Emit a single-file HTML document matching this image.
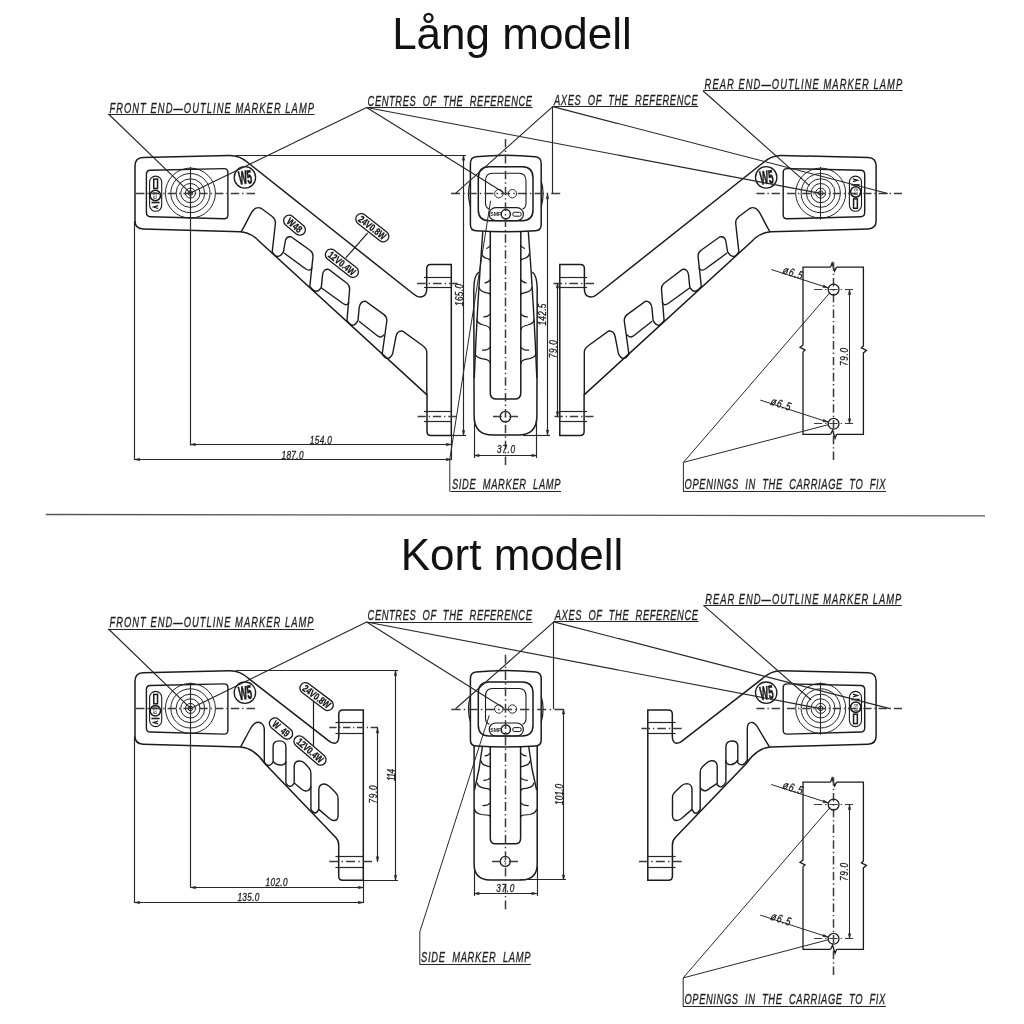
<!DOCTYPE html><html><head><meta charset="utf-8"><title>Lång modell / Kort modell</title><style>html,body{margin:0;padding:0;background:#fff;}svg{display:block;}</style></head><body><svg width="1024" height="1024" viewBox="0 0 1024 1024">
<style>
text{font-family:"Liberation Sans",sans-serif;}
.cl{stroke:#3a3a3a;fill:none;}
</style>
<rect width="1024" height="1024" fill="#fff"/>
<g opacity="0.996">
<text x="512" y="48.8" font-size="44" font-style="normal" font-weight="normal" text-anchor="middle" fill="#111" >Lång modell</text>
<text x="512" y="569.8" font-size="44" font-style="normal" font-weight="normal" text-anchor="middle" fill="#111" >Kort modell</text>
<line x1="45.8" y1="514.5" x2="985" y2="515.8" stroke="#555" stroke-width="1.3" />
<g>
<path d="M150.4,170.2 L223.9,168.6 Q227.9,168.5 227.9,172.5 L227.9,214.9 Q227.9,218.9 223.9,218.8 L150.4,216.7 Q146.4,216.6 146.4,212.6 L146.4,174.3 Q146.4,170.3 150.4,170.2 Z" stroke="#1a1a1a" stroke-width="1.4" fill="none" />
<circle cx="190.4" cy="193.1" r="25" stroke="#1a1a1a" stroke-width="0.95" fill="none"/>
<circle cx="190.4" cy="193.1" r="19.6" stroke="#1a1a1a" stroke-width="0.95" fill="none"/>
<circle cx="190.4" cy="193.1" r="14.3" stroke="#1a1a1a" stroke-width="0.95" fill="none"/>
<circle cx="190.4" cy="193.1" r="9.6" stroke="#1a1a1a" stroke-width="0.95" fill="none"/>
<circle cx="190.4" cy="193.1" r="5" stroke="#1a1a1a" stroke-width="0.95" fill="none"/>
<circle cx="190.4" cy="193.1" r="2.3" stroke="#1a1a1a" stroke-width="0.95" fill="none"/>
<rect x="149.6" y="176.1" width="12.1" height="35.2" rx="6" fill="none" stroke="#1a1a1a" stroke-width="1.1"/>
<circle cx="244.9" cy="177.4" r="10.7" stroke="#1a1a1a" stroke-width="1.3" fill="none"/>
<path d="M135,166 Q135,157.8 143,157.5 L229.7,155.5 C237,155.4 243,158.2 248.4,163 L413.5,294 C418,298 426.7,299 426.7,289 L426.7,268.6 Q426.7,264.6 430.7,264.6 L451.3,264.6 L451.3,435.5 L431,435.5 Q427,435.5 427,431.5 L427,394.9 L260,242 Q252,233 240.6,231.8 L143,228.9 Q135,228.6 135,221 Z" stroke="#1a1a1a" stroke-width="1.5" fill="none" />
<path d="M241,232 C246,224 250,214 253,210.5 Q256.5,206 261.5,208.5 L272.5,216.8 Q275.6,219.3 275.4,223.5 L272.2,251.8 Q277.6,261 283.5,251.8 L285.2,241.5 Q286.2,236 291.2,236.8 L310,250.2 Q313.2,252.6 313,256.5 L309.8,286.5 Q316.4,295.5 321.3,287.4 L322.6,274.5 Q323.6,268.5 328.8,269.4 L347,283.2 Q349.8,285.5 349.6,289.5 L347,320.4 Q353,330 358,320.4 L359.2,307.5 Q360.2,301 365.5,301.2 L384,314.6 Q387,317 386.8,321 L382.2,354 Q388.2,363 392.7,353.6 L395.9,337 Q397,330.5 402.4,331 L422.5,345.5 Q426.7,348.5 426.8,352 L426.8,395" stroke="#1a1a1a" stroke-width="1.4" fill="none" />
<path d="M284,253 L305.5,268.8 Q310,272 312.3,267.5" stroke="#1a1a1a" stroke-width="1.4" fill="none" />
<path d="M321.5,288 L343,303.5 Q347.5,306.5 349,302" stroke="#1a1a1a" stroke-width="1.4" fill="none" />
<path d="M359,321.3 L378,336.2 Q382,338.5 383.9,334.5" stroke="#1a1a1a" stroke-width="1.4" fill="none" />
<line x1="424" y1="277.5" x2="451.3" y2="277.5" stroke="#262626" stroke-width="1.2" />
<line x1="424" y1="287.5" x2="451.3" y2="287.5" stroke="#262626" stroke-width="1.2" />
<line x1="424" y1="411.5" x2="451.3" y2="411.5" stroke="#262626" stroke-width="1.2" />
<line x1="424" y1="421.5" x2="451.3" y2="421.5" stroke="#262626" stroke-width="1.2" />
<line x1="417.1" y1="283.5" x2="457.6" y2="283.5" class="cl" stroke-width="1.5" stroke-dasharray="8.58 2.99 1.4 2.99"/>
<line x1="417.6" y1="416.5" x2="456.6" y2="416.5" class="cl" stroke-width="1.5" stroke-dasharray="8.26 2.88 1.34 2.88"/>
</g>
<g transform="matrix(-1 0 0 1 1011.1 0)">
<path d="M150.4,170.2 L223.9,168.6 Q227.9,168.5 227.9,172.5 L227.9,214.9 Q227.9,218.9 223.9,218.8 L150.4,216.7 Q146.4,216.6 146.4,212.6 L146.4,174.3 Q146.4,170.3 150.4,170.2 Z" stroke="#1a1a1a" stroke-width="1.4" fill="none" />
<circle cx="190.4" cy="193.1" r="25" stroke="#1a1a1a" stroke-width="0.95" fill="none"/>
<circle cx="190.4" cy="193.1" r="19.6" stroke="#1a1a1a" stroke-width="0.95" fill="none"/>
<circle cx="190.4" cy="193.1" r="14.3" stroke="#1a1a1a" stroke-width="0.95" fill="none"/>
<circle cx="190.4" cy="193.1" r="9.6" stroke="#1a1a1a" stroke-width="0.95" fill="none"/>
<circle cx="190.4" cy="193.1" r="5" stroke="#1a1a1a" stroke-width="0.95" fill="none"/>
<circle cx="190.4" cy="193.1" r="2.3" stroke="#1a1a1a" stroke-width="0.95" fill="none"/>
<rect x="149.6" y="176.1" width="12.1" height="35.2" rx="6" fill="none" stroke="#1a1a1a" stroke-width="1.1"/>
<circle cx="244.9" cy="177.4" r="10.7" stroke="#1a1a1a" stroke-width="1.3" fill="none"/>
<path d="M135,166 Q135,157.8 143,157.5 L229.7,155.5 C237,155.4 243,158.2 248.4,163 L413.5,294 C418,298 426.7,299 426.7,289 L426.7,268.6 Q426.7,264.6 430.7,264.6 L451.3,264.6 L451.3,435.5 L431,435.5 Q427,435.5 427,431.5 L427,394.9 L260,242 Q252,233 240.6,231.8 L143,228.9 Q135,228.6 135,221 Z" stroke="#1a1a1a" stroke-width="1.5" fill="none" />
<path d="M241,232 C246,224 250,214 253,210.5 Q256.5,206 261.5,208.5 L272.5,216.8 Q275.6,219.3 275.4,223.5 L272.2,251.8 Q277.6,261 283.5,251.8 L285.2,241.5 Q286.2,236 291.2,236.8 L310,250.2 Q313.2,252.6 313,256.5 L309.8,286.5 Q316.4,295.5 321.3,287.4 L322.6,274.5 Q323.6,268.5 328.8,269.4 L347,283.2 Q349.8,285.5 349.6,289.5 L347,320.4 Q353,330 358,320.4 L359.2,307.5 Q360.2,301 365.5,301.2 L384,314.6 Q387,317 386.8,321 L382.2,354 Q388.2,363 392.7,353.6 L395.9,337 Q397,330.5 402.4,331 L422.5,345.5 Q426.7,348.5 426.8,352 L426.8,395" stroke="#1a1a1a" stroke-width="1.4" fill="none" />
<path d="M284,253 L305.5,268.8 Q310,272 312.3,267.5" stroke="#1a1a1a" stroke-width="1.4" fill="none" />
<path d="M321.5,288 L343,303.5 Q347.5,306.5 349,302" stroke="#1a1a1a" stroke-width="1.4" fill="none" />
<path d="M359,321.3 L378,336.2 Q382,338.5 383.9,334.5" stroke="#1a1a1a" stroke-width="1.4" fill="none" />
<line x1="424" y1="277.5" x2="451.3" y2="277.5" stroke="#262626" stroke-width="1.2" />
<line x1="424" y1="287.5" x2="451.3" y2="287.5" stroke="#262626" stroke-width="1.2" />
<line x1="424" y1="411.5" x2="451.3" y2="411.5" stroke="#262626" stroke-width="1.2" />
<line x1="424" y1="421.5" x2="451.3" y2="421.5" stroke="#262626" stroke-width="1.2" />
<line x1="417.1" y1="283.5" x2="457.6" y2="283.5" class="cl" stroke-width="1.5" stroke-dasharray="8.58 2.99 1.4 2.99"/>
<line x1="417.6" y1="416.5" x2="456.6" y2="416.5" class="cl" stroke-width="1.5" stroke-dasharray="8.26 2.88 1.34 2.88"/>
</g>
<g>
<g transform="translate(0,515.3)">
<path d="M150.4,170.2 L223.9,168.6 Q227.9,168.5 227.9,172.5 L227.9,214.9 Q227.9,218.9 223.9,218.8 L150.4,216.7 Q146.4,216.6 146.4,212.6 L146.4,174.3 Q146.4,170.3 150.4,170.2 Z" stroke="#1a1a1a" stroke-width="1.4" fill="none" />
<circle cx="190.4" cy="193.1" r="25" stroke="#1a1a1a" stroke-width="0.95" fill="none"/>
<circle cx="190.4" cy="193.1" r="19.6" stroke="#1a1a1a" stroke-width="0.95" fill="none"/>
<circle cx="190.4" cy="193.1" r="14.3" stroke="#1a1a1a" stroke-width="0.95" fill="none"/>
<circle cx="190.4" cy="193.1" r="9.6" stroke="#1a1a1a" stroke-width="0.95" fill="none"/>
<circle cx="190.4" cy="193.1" r="5" stroke="#1a1a1a" stroke-width="0.95" fill="none"/>
<circle cx="190.4" cy="193.1" r="2.3" stroke="#1a1a1a" stroke-width="0.95" fill="none"/>
<rect x="149.6" y="176.1" width="12.1" height="35.2" rx="6" fill="none" stroke="#1a1a1a" stroke-width="1.1"/>
<circle cx="244.9" cy="177.4" r="10.7" stroke="#1a1a1a" stroke-width="1.3" fill="none"/>
</g>
<path d="M135,681.3 Q135,673.1 143,672.8 L229.7,670.8 C237,670.7 243,673.5 248.4,678.3 L328.5,740.6 C333,744.5 338.8,745 338.8,736 L338.8,714.1 Q338.8,710.1 342.8,710.1 L363.3,710.1 L363.3,880.3 L342.7,880.3 Q338.7,880.3 338.7,876.3 L338.7,845 Q338.7,840.5 335.8,837.5 L265,763.7 Q254,748 240.6,747.1 L143,744.2 Q135,743.9 135,736.3 Z" stroke="#1a1a1a" stroke-width="1.5" fill="none" />
<line x1="335.5" y1="722.5" x2="363.3" y2="722.5" stroke="#262626" stroke-width="1.2" />
<line x1="335.5" y1="733.5" x2="363.3" y2="733.5" stroke="#262626" stroke-width="1.2" />
<line x1="335.5" y1="856.5" x2="363.3" y2="856.5" stroke="#262626" stroke-width="1.2" />
<line x1="335.5" y1="867.5" x2="363.3" y2="867.5" stroke="#262626" stroke-width="1.2" />
</g>
<g transform="matrix(-1 0 0 1 1011.1 0)">
<g transform="translate(0,515.3)">
<path d="M150.4,170.2 L223.9,168.6 Q227.9,168.5 227.9,172.5 L227.9,214.9 Q227.9,218.9 223.9,218.8 L150.4,216.7 Q146.4,216.6 146.4,212.6 L146.4,174.3 Q146.4,170.3 150.4,170.2 Z" stroke="#1a1a1a" stroke-width="1.4" fill="none" />
<circle cx="190.4" cy="193.1" r="25" stroke="#1a1a1a" stroke-width="0.95" fill="none"/>
<circle cx="190.4" cy="193.1" r="19.6" stroke="#1a1a1a" stroke-width="0.95" fill="none"/>
<circle cx="190.4" cy="193.1" r="14.3" stroke="#1a1a1a" stroke-width="0.95" fill="none"/>
<circle cx="190.4" cy="193.1" r="9.6" stroke="#1a1a1a" stroke-width="0.95" fill="none"/>
<circle cx="190.4" cy="193.1" r="5" stroke="#1a1a1a" stroke-width="0.95" fill="none"/>
<circle cx="190.4" cy="193.1" r="2.3" stroke="#1a1a1a" stroke-width="0.95" fill="none"/>
<rect x="149.6" y="176.1" width="12.1" height="35.2" rx="6" fill="none" stroke="#1a1a1a" stroke-width="1.1"/>
<circle cx="244.9" cy="177.4" r="10.7" stroke="#1a1a1a" stroke-width="1.3" fill="none"/>
</g>
<path d="M135,681.3 Q135,673.1 143,672.8 L229.7,670.8 C237,670.7 243,673.5 248.4,678.3 L328.5,740.6 C333,744.5 338.8,745 338.8,736 L338.8,714.1 Q338.8,710.1 342.8,710.1 L363.3,710.1 L363.3,880.3 L342.7,880.3 Q338.7,880.3 338.7,876.3 L338.7,845 Q338.7,840.5 335.8,837.5 L265,763.7 Q254,748 240.6,747.1 L143,744.2 Q135,743.9 135,736.3 Z" stroke="#1a1a1a" stroke-width="1.5" fill="none" />
<line x1="335.5" y1="722.5" x2="363.3" y2="722.5" stroke="#262626" stroke-width="1.2" />
<line x1="335.5" y1="733.5" x2="363.3" y2="733.5" stroke="#262626" stroke-width="1.2" />
<line x1="335.5" y1="856.5" x2="363.3" y2="856.5" stroke="#262626" stroke-width="1.2" />
<line x1="335.5" y1="867.5" x2="363.3" y2="867.5" stroke="#262626" stroke-width="1.2" />
</g>
<line x1="329.3" y1="727.5" x2="378" y2="727.5" class="cl" stroke-width="1.5" stroke-dasharray="7.4 2.58 1.2 2.58"/>
<line x1="329.3" y1="861.5" x2="372" y2="861.5" class="cl" stroke-width="1.5" stroke-dasharray="9.04 3.16 1.47 3.16"/>
<line x1="641.4" y1="728.5" x2="681.7" y2="728.5" class="cl" stroke-width="1.5" stroke-dasharray="8.54 2.98 1.39 2.98"/>
<line x1="639" y1="861.5" x2="681.7" y2="861.5" class="cl" stroke-width="1.5" stroke-dasharray="9.04 3.16 1.47 3.16"/>
<path d="M240.5,747 C245,739 249,731 251.5,727 Q256,720.5 261,723 Q264.3,725 264.3,730 L264.3,762 Q268.7,769 273.1,762 L273.1,746.5 Q273.1,740.9 279.4,740.9 Q285.9,740.9 285.9,747 L285.9,783 Q290,790 294.2,783 L294.2,766 Q294.5,760.8 300,761 Q302.5,761 305,763.5 L309,768 Q310.9,770 310.9,773.5 L310.9,809.4 Q315.3,816.5 318.8,809.4 L318.8,789.5 Q319.3,783.6 324.5,784 Q327,784.5 329.5,786.5 L335.5,792.5 Q338.1,795 338.1,798.5 L338.1,816 Q337.8,821 333.5,820.5 Q331.5,820.2 329.5,818.5 L318.8,809.4" stroke="#1a1a1a" stroke-width="1.4" fill="none" />
<path d="M273.1,761.5 Q277,766 282.7,764.8 Q285.9,764 285.9,761" stroke="#1a1a1a" stroke-width="1.4" fill="none" />
<path d="M294.2,783 L302,789.5 Q305.5,792 308,790.5 Q310.9,789 310.9,786" stroke="#1a1a1a" stroke-width="1.4" fill="none" />
<path d="M769.4,746.8 L756.8,726 Q752.5,720.2 748.5,723.8 Q747.3,725.3 747.3,728.5 L747.3,760.2 Q742.5,768 737.8,762.9 L737.8,746 Q737.8,741 732,741 Q725.9,741 725.9,747 L725.9,782 Q721.5,790 717.2,784.8 L717.2,766 Q717,760.5 711.5,760.8 Q709,761 706.5,763 L702.5,766.8 Q700.2,769 700.2,772.5 L700.2,809.4 Q695.6,817 692,809.4 L692,789.5 Q691.8,783.6 686.5,783.6 Q684,783.8 681.5,785.8 L675.5,791.5 Q672.5,794 672.5,797.5 L672.5,816 Q672.8,821 677.5,820.4 Q679.5,820 681.5,818.5 L692,809.4" stroke="#1a1a1a" stroke-width="1.4" fill="none" />
<path d="M737.8,760 Q734,765.5 729,764.5 Q725.9,763.8 725.9,760.5" stroke="#1a1a1a" stroke-width="1.4" fill="none" />
<path d="M700.2,787.5 Q702.5,791.8 706.5,790.5 L716.8,783.6" stroke="#1a1a1a" stroke-width="1.4" fill="none" />
<text x="245.2" y="184" font-size="19" font-style="normal" font-weight="bold" text-anchor="middle" fill="#161616" transform="rotate(-8 244.9 177.4)" stroke="#161616" stroke-width="0.6" textLength="13.5" lengthAdjust="spacingAndGlyphs">W5</text>
<text x="766.5" y="184" font-size="19" font-style="normal" font-weight="bold" text-anchor="middle" fill="#161616" transform="rotate(-8 766.2 177.4)" stroke="#161616" stroke-width="0.6" textLength="13.5" lengthAdjust="spacingAndGlyphs">W5</text>
<g transform="rotate(0 155.65 193.7)">
<rect x="153.75" y="179.1" width="3.8" height="9.4" fill="none" stroke="#1a1a1a" stroke-width="1.5"/>
<circle cx="155.35" cy="195.5" r="5.2" stroke="#1a1a1a" stroke-width="1.6" fill="none"/>
<text x="155.35" y="195.5" font-size="6" font-style="normal" font-weight="normal" text-anchor="middle" fill="#222" transform="rotate(90 155.35 195.5)" dy="2">E9</text>
<line x1="151.45" y1="202.5" x2="159.65" y2="202.5" stroke="#1a1a1a" stroke-width="1.6" />
<path d="M158.15,205.7 L153.65,207.1 L158.15,208.5" stroke="#1a1a1a" stroke-width="1.3" fill="none" />
</g>
<g transform="rotate(180 855.45 193.7)">
<rect x="853.55" y="179.1" width="3.8" height="9.4" fill="none" stroke="#1a1a1a" stroke-width="1.5"/>
<circle cx="855.15" cy="195.5" r="5.2" stroke="#1a1a1a" stroke-width="1.6" fill="none"/>
<text x="855.15" y="195.5" font-size="6" font-style="normal" font-weight="normal" text-anchor="middle" fill="#222" transform="rotate(90 855.15 195.5)" dy="2">E9</text>
<line x1="851.25" y1="202.5" x2="859.45" y2="202.5" stroke="#1a1a1a" stroke-width="1.6" />
<path d="M857.95,205.7 L853.45,207.1 L857.95,208.5" stroke="#1a1a1a" stroke-width="1.3" fill="none" />
</g>
<text x="245.2" y="699.3" font-size="19" font-style="normal" font-weight="bold" text-anchor="middle" fill="#161616" transform="rotate(-8 244.9 692.7)" stroke="#161616" stroke-width="0.6" textLength="13.5" lengthAdjust="spacingAndGlyphs">W5</text>
<text x="766.5" y="699.3" font-size="19" font-style="normal" font-weight="bold" text-anchor="middle" fill="#161616" transform="rotate(-8 766.2 692.7)" stroke="#161616" stroke-width="0.6" textLength="13.5" lengthAdjust="spacingAndGlyphs">W5</text>
<g transform="rotate(0 155.65 709)">
<rect x="153.75" y="694.4" width="3.8" height="9.4" fill="none" stroke="#1a1a1a" stroke-width="1.5"/>
<circle cx="155.35" cy="710.8" r="5.2" stroke="#1a1a1a" stroke-width="1.6" fill="none"/>
<text x="155.35" y="710.8" font-size="6" font-style="normal" font-weight="normal" text-anchor="middle" fill="#222" transform="rotate(90 155.35 710.8)" dy="2">E9</text>
<line x1="151.45" y1="718.5" x2="159.65" y2="718.5" stroke="#1a1a1a" stroke-width="1.6" />
<path d="M158.15,721 L153.65,722.4 L158.15,723.8" stroke="#1a1a1a" stroke-width="1.3" fill="none" />
</g>
<g transform="rotate(180 855.45 709)">
<rect x="853.55" y="694.4" width="3.8" height="9.4" fill="none" stroke="#1a1a1a" stroke-width="1.5"/>
<circle cx="855.15" cy="710.8" r="5.2" stroke="#1a1a1a" stroke-width="1.6" fill="none"/>
<text x="855.15" y="710.8" font-size="6" font-style="normal" font-weight="normal" text-anchor="middle" fill="#222" transform="rotate(90 855.15 710.8)" dy="2">E9</text>
<line x1="851.25" y1="718.5" x2="859.45" y2="718.5" stroke="#1a1a1a" stroke-width="1.6" />
<path d="M857.95,721 L853.45,722.4 L857.95,723.8" stroke="#1a1a1a" stroke-width="1.3" fill="none" />
</g>
<line x1="367.7" y1="232.8" x2="345.8" y2="257.8" stroke="#1a1a1a" stroke-width="1.2" />
<g transform="rotate(40 294.5 225.2)">
<rect x="282" y="219.7" width="25" height="11" rx="5.5" fill="#fff" stroke="#1a1a1a" stroke-width="1.3"/>
<text x="294.5" y="228.7" font-size="10" text-anchor="middle" font-weight="bold" fill="#111" stroke="#111" stroke-width="0.25" textLength="17" lengthAdjust="spacingAndGlyphs">W48</text>
</g>
<g transform="rotate(38 372.3 227.7)">
<rect x="352.8" y="222.2" width="39" height="11" rx="5.5" fill="#fff" stroke="#1a1a1a" stroke-width="1.3"/>
<text x="372.3" y="231.2" font-size="10" text-anchor="middle" font-weight="bold" fill="#111" stroke="#111" stroke-width="0.25" textLength="32" lengthAdjust="spacingAndGlyphs">24V0.8W</text>
</g>
<g transform="rotate(38 341.9 263.3)">
<rect x="322.4" y="257.8" width="39" height="11" rx="5.5" fill="#fff" stroke="#1a1a1a" stroke-width="1.3"/>
<text x="341.9" y="266.8" font-size="10" text-anchor="middle" font-weight="bold" fill="#111" stroke="#111" stroke-width="0.25" textLength="32" lengthAdjust="spacingAndGlyphs">12V0.4W</text>
</g>
<line x1="313.5" y1="700.7" x2="313.5" y2="745.4" stroke="#1a1a1a" stroke-width="1.2" />
<g transform="rotate(37 316.6 696.6)">
<rect x="297.1" y="691.1" width="39" height="11" rx="5.5" fill="#fff" stroke="#1a1a1a" stroke-width="1.3"/>
<text x="316.6" y="700.1" font-size="10" text-anchor="middle" font-weight="bold" fill="#111" stroke="#111" stroke-width="0.25" textLength="32" lengthAdjust="spacingAndGlyphs">24V0.8W</text>
</g>
<g transform="rotate(40 281 728.6)">
<rect x="267.5" y="723.1" width="27" height="11" rx="5.5" fill="#fff" stroke="#1a1a1a" stroke-width="1.3"/>
<text x="281" y="732.1" font-size="10" text-anchor="middle" font-weight="bold" fill="#111" stroke="#111" stroke-width="0.25" textLength="19" lengthAdjust="spacingAndGlyphs">W&#160;&#160;49</text>
</g>
<g transform="rotate(41 310 750.5)">
<rect x="290.5" y="745" width="39" height="11" rx="5.5" fill="#fff" stroke="#1a1a1a" stroke-width="1.3"/>
<text x="310" y="754" font-size="10" text-anchor="middle" font-weight="bold" fill="#111" stroke="#111" stroke-width="0.25" textLength="32" lengthAdjust="spacingAndGlyphs">12V0.4W</text>
</g>
<path d="M476,156.8 Q505.8,153.5 535.5,156.8 Q541.2,157.5 541.2,163.5 L541.2,224.5 Q541.2,230.5 535.5,230.8 Q505.8,232.8 476,230.8 Q470.4,230.5 470.4,224.5 L470.4,163.5 Q470.4,157.5 476,156.8 Z" stroke="#1a1a1a" stroke-width="1.5" fill="none" />
<path d="M470.4,181 Q466.6,193.7 470.4,206.5 M541.2,181 Q545,193.7 541.2,206.5" stroke="#1a1a1a" stroke-width="1.2" fill="none" />
<path d="M489,166.7 L522.3,166.7 Q533,166.7 533,178 L533,210 Q533,220.7 522.3,220.7 L489,220.7 Q478.3,220.7 478.3,210 L478.3,178 Q478.3,166.7 489,166.7 Z" stroke="#1a1a1a" stroke-width="1.5" fill="none" />
<path d="M489.5,209 Q485.5,208 485.5,203 L485.5,181 Q485.5,173.2 492.5,173.2 L519,173.2 Q526,173.2 526,181 L526,203 Q526,208 522.5,209" stroke="#1a1a1a" stroke-width="1.1" fill="none" />
<rect x="489.2" y="207.7" width="34.2" height="13" rx="6.5" fill="none" stroke="#1a1a1a" stroke-width="1.2"/>
<circle cx="505.8" cy="214.2" r="4.6" stroke="#1a1a1a" stroke-width="1.5" fill="none"/>
<rect x="512.8" y="212.3" width="8.4" height="3.9" rx="1.5" fill="none" stroke="#1a1a1a" stroke-width="1"/>
<text x="495.8" y="216.4" font-size="5.2" font-style="normal" font-weight="bold" text-anchor="middle" fill="#222" >SMF</text>
<circle cx="498.8" cy="193.7" r="4.2" stroke="#1a1a1a" stroke-width="0.9" fill="none"/>
<circle cx="512.4" cy="193.7" r="4.2" stroke="#1a1a1a" stroke-width="0.9" fill="none"/>
<path d="M490.3,231.8 L490.3,393 Q490.3,399.1 496.5,399.1 L514.6,399.1 Q520.8,399.1 520.8,393 L520.8,231.8" stroke="#1a1a1a" stroke-width="1.5" fill="none" />
<path d="M482.8,231.3 C480.5,262 476.5,320 474.3,378 M528.3,231.3 C530.6,262 534.6,320 536.8,378" stroke="#1a1a1a" stroke-width="1.4" fill="none" />
<path d="M478.9,272 C474.5,275 473.6,282 473.8,292 L474.1,416 Q474.1,435.1 493,435.1 L518,435.1 Q536.9,435.1 536.9,416 L537.2,292 C537.4,282 536.5,275 532.3,272" stroke="#1a1a1a" stroke-width="1.5" fill="none" />
<path d="M481.8,253.4 C482.1,257.9 485.8,258 488.3,259 C488.3,260 490.3,257.9 490.3,260.9 M529.3,253.4 C529,257.9 525.3,258 522.8,259 C522.8,260 520.8,257.9 520.8,260.9 M479.2,287 C479.5,291.5 483.2,291.6 485.7,292.6 C488.3,293.6 490.3,292.3 490.3,295.3 M531.9,287 C531.6,291.5 527.9,291.6 525.4,292.6 C522.8,293.6 520.8,292.3 520.8,295.3 M476.9,319.4 C477.2,323.9 480.9,324 483.4,325 C488.3,326 490.3,327.4 490.3,330.4 M534.2,319.4 C533.9,323.9 530.2,324 527.7,325 C522.8,326 520.8,327.4 520.8,330.4 M475.1,353 C475.4,357.5 479.1,357.6 481.6,358.6 C488.3,359.6 490.3,360.8 490.3,363.8 M536,353 C535.7,357.5 532,357.6 529.5,358.6 C522.8,359.6 520.8,360.8 520.8,363.8 M486.1,248.4 Q487.8,248.7 490.3,245.7 M525,248.4 Q523.3,248.7 520.8,245.7 M484.5,282.8 Q487.8,283.1 490.3,279.7 M526.6,282.8 Q523.3,283.1 520.8,279.7 M483.3,316.8 Q487.8,317.1 490.3,314.2 M527.8,316.8 Q523.3,317.1 520.8,314.2 M482,350.2 Q487.8,350.5 490.3,347.1 M529.1,350.2 Q523.3,350.5 520.8,347.1" stroke="#1a1a1a" stroke-width="1.2" fill="none" />
<circle cx="505.4" cy="416.7" r="5.3" stroke="#1a1a1a" stroke-width="1.3" fill="none"/>
<line x1="493" y1="416.5" x2="518" y2="416.5" class="cl" stroke-width="1.5" stroke-dasharray="8.74 3.05 1.42 3.05"/>
<line x1="505.5" y1="139" x2="505.5" y2="465" class="cl" stroke-width="1.5" stroke-dasharray="8.53 2.98 1.39 2.98"/>
<line x1="451" y1="193.5" x2="560.3" y2="193.5" class="cl" stroke-width="1.5" stroke-dasharray="8.99 3.13 1.46 3.13"/>
<path d="M476,672.0999999999999 Q505.8,668.8 535.5,672.0999999999999 Q541.2,672.8 541.2,678.8 L541.2,739.8 Q541.2,745.8 535.5,746.0999999999999 Q505.8,748.0999999999999 476,746.0999999999999 Q470.4,745.8 470.4,739.8 L470.4,678.8 Q470.4,672.8 476,672.0999999999999 Z" stroke="#1a1a1a" stroke-width="1.5" fill="none" />
<path d="M470.4,696.3 Q466.6,709.0 470.4,721.8 M541.2,696.3 Q545,709.0 541.2,721.8" stroke="#1a1a1a" stroke-width="1.2" fill="none" />
<path d="M489,682.0 L522.3,682.0 Q533,682.0 533,693.3 L533,725.3 Q533,736.0 522.3,736.0 L489,736.0 Q478.3,736.0 478.3,725.3 L478.3,693.3 Q478.3,682.0 489,682.0 Z" stroke="#1a1a1a" stroke-width="1.5" fill="none" />
<path d="M489.5,724.3 Q485.5,723.3 485.5,718.3 L485.5,696.3 Q485.5,688.5 492.5,688.5 L519,688.5 Q526,688.5 526,696.3 L526,718.3 Q526,723.3 522.5,724.3" stroke="#1a1a1a" stroke-width="1.1" fill="none" />
<rect x="489.2" y="723" width="34.2" height="13" rx="6.5" fill="none" stroke="#1a1a1a" stroke-width="1.2"/>
<circle cx="505.8" cy="729.5" r="4.6" stroke="#1a1a1a" stroke-width="1.5" fill="none"/>
<rect x="512.8" y="727.6" width="8.4" height="3.9" rx="1.5" fill="none" stroke="#1a1a1a" stroke-width="1"/>
<text x="495.8" y="731.7" font-size="5.2" font-style="normal" font-weight="bold" text-anchor="middle" fill="#222" >SMF</text>
<circle cx="498.8" cy="709" r="4.2" stroke="#1a1a1a" stroke-width="0.9" fill="none"/>
<circle cx="512.4" cy="709" r="4.2" stroke="#1a1a1a" stroke-width="0.9" fill="none"/>
<path d="M490.3,747 L490.3,838.5 Q490.3,843.8 495.6,843.8 L515.3,843.8 Q520.6,843.8 520.6,838.5 L520.6,747" stroke="#1a1a1a" stroke-width="1.5" fill="none" />
<path d="M482.4,746.5 C480.6,762 477,780 474.5,790 M528.7,746.5 C530.5,762 534.1,780 536.6,790" stroke="#1a1a1a" stroke-width="1.4" fill="none" />
<path d="M474.1,746 L474.1,864 Q474.1,879.9 490,879.9 L521.3,879.9 Q537.2,879.9 537.2,864 L537.2,746" stroke="#1a1a1a" stroke-width="1.5" fill="none" />
<path d="M481.1,760.6 C481.4,765.1 485.1,765.2 487.6,766.2 C488.3,767.2 490.3,765.1 490.3,768.1 M530,760.6 C529.7,765.1 526,765.2 523.5,766.2 C522.8,767.2 520.8,765.1 520.8,768.1 M477.3,782.6 C477.6,787.1 481.3,787.2 483.8,788.2 C488.3,789.2 490.3,788 490.3,791 M533.8,782.6 C533.5,787.1 529.8,787.2 527.3,788.2 C522.8,789.2 520.8,788 520.8,791 M474.6,808.9 C474.9,813.4 478.6,813.5 481.1,814.5 C488.3,815.5 490.3,814.3 490.3,817.3 M536.5,808.9 C536.2,813.4 532.5,813.5 530,814.5 C522.8,815.5 520.8,814.3 520.8,817.3 M484.6,755.8 Q487.8,756.1 490.3,753.2 M526.5,755.8 Q523.3,756.1 520.8,753.2 M483.3,780.4 Q487.8,780.7 490.3,777.8 M527.8,780.4 Q523.3,780.7 520.8,777.8 M482.4,805.5 Q487.8,805.8 490.3,802.8 M528.7,805.5 Q523.3,805.8 520.8,802.8" stroke="#1a1a1a" stroke-width="1.2" fill="none" />
<circle cx="505.3" cy="861.4" r="5" stroke="#1a1a1a" stroke-width="1.3" fill="none"/>
<line x1="492" y1="861.5" x2="518" y2="861.5" class="cl" stroke-width="1.5" stroke-dasharray="9.09 3.17 1.48 3.17"/>
<line x1="505.5" y1="654.7" x2="505.5" y2="909.3" class="cl" stroke-width="1.5" stroke-dasharray="8.81 3.07 1.43 3.07"/>
<line x1="451.3" y1="709.5" x2="563.6" y2="709.5" class="cl" stroke-width="1.5" stroke-dasharray="9.23 3.22 1.5 3.22"/>
<line x1="756.4" y1="193.5" x2="902" y2="193.5" class="cl" stroke-width="1.5" stroke-dasharray="8.21 2.86 1.34 2.86"/>
<line x1="136" y1="193.5" x2="255" y2="193.5" class="cl" stroke-width="1.5" stroke-dasharray="8.49 2.96 1.38 2.96"/>
<line x1="820.5" y1="167" x2="820.5" y2="219.5" stroke="#262626" stroke-width="1.0" />
<line x1="756.4" y1="708.5" x2="902" y2="708.5" class="cl" stroke-width="1.5" stroke-dasharray="8.21 2.86 1.34 2.86"/>
<line x1="136" y1="708.5" x2="255" y2="708.5" class="cl" stroke-width="1.5" stroke-dasharray="8.49 2.96 1.38 2.96"/>
<line x1="820.5" y1="682.3" x2="820.5" y2="734.8" stroke="#262626" stroke-width="1.0" />
<path d="M830.6,267.1 L803,267.1 L803,344.9 L800,347.4 L805,349.9 L803,351.9 L803,434.3 L830.6,434.3 M836.6,434.3 L863.4,434.3 L863.4,352.9 L866.4,350.4 L861.4,347.9 L863.4,345.9 L863.4,267.1 L836.6,267.1 M830.6,267.1 L832.1,263.1 L834.6,271.1 L836.6,267.1 M830.6,434.3 L832.6,430.3 L835.1,438.3 L836.6,434.3" stroke="#1a1a1a" stroke-width="1.3" fill="none" />
<line x1="833.5" y1="262.2" x2="833.5" y2="460" class="cl" stroke-width="1.5" stroke-dasharray="8.48 2.96 1.38 2.96"/>
<circle cx="833.6" cy="289.6" r="5.4" stroke="#1a1a1a" stroke-width="1.3" fill="none"/>
<circle cx="833.6" cy="423.8" r="5.4" stroke="#1a1a1a" stroke-width="1.3" fill="none"/>
<line x1="814" y1="289.5" x2="853.1" y2="289.5" class="cl" stroke-width="1.1" stroke-dasharray="8.28 2.89 1.35 2.89"/>
<line x1="814" y1="423.5" x2="853.1" y2="423.5" class="cl" stroke-width="1.1" stroke-dasharray="8.28 2.89 1.35 2.89"/>
<line x1="849.5" y1="289.6" x2="849.5" y2="423.8" stroke="#262626" stroke-width="1.0" />
<path d="M849.5,289.6 L850.75,294.6 L848.25,294.6 Z" fill="#262626" stroke="#262626" stroke-width="0.5"/>
<path d="M849.5,423.8 L848.25,418.8 L850.75,418.8 Z" fill="#262626" stroke="#262626" stroke-width="0.5"/>
<g transform="translate(848.45,357) rotate(-90) scale(0.75,1)"><text x="-12" y="0" font-size="11.0" font-style="italic" font-weight="normal" fill="#1e1e1e" stroke="#1e1e1e" stroke-width="0.3" textLength="24" lengthAdjust="spacing">79.0</text></g>
<line x1="771.3" y1="269.5" x2="828" y2="287.8" stroke="#262626" stroke-width="1.0" />
<path d="M828,287.8 L822.86,287.45 L823.63,285.07 Z" fill="#262626" stroke="#262626" stroke-width="0.5"/>
<line x1="760.3" y1="400.1" x2="828" y2="422.1" stroke="#262626" stroke-width="1.0" />
<path d="M828,422.1 L822.86,421.74 L823.63,419.37 Z" fill="#262626" stroke="#262626" stroke-width="0.5"/>
<g transform="translate(791.8,276.4) rotate(18) scale(0.78,1)"><text x="-13.14" y="0" font-size="11.4" font-style="italic" font-weight="normal" fill="#1e1e1e" stroke="#1e1e1e" stroke-width="0.3" textLength="26.28" lengthAdjust="spacing">ø6.5</text></g>
<g transform="translate(779.8,407.7) rotate(18) scale(0.78,1)"><text x="-13.14" y="0" font-size="11.4" font-style="italic" font-weight="normal" fill="#1e1e1e" stroke="#1e1e1e" stroke-width="0.3" textLength="26.28" lengthAdjust="spacing">ø6.5</text></g>
<path d="M830.6,782.1 L803,782.1 L803,859.9 L800,862.4 L805,864.9 L803,866.9 L803,949.3 L830.6,949.3 M836.6,949.3 L863.4,949.3 L863.4,867.9 L866.4,865.4 L861.4,862.9 L863.4,860.9 L863.4,782.1 L836.6,782.1 M830.6,782.1 L832.1,778.1 L834.6,786.1 L836.6,782.1 M830.6,949.3 L832.6,945.3 L835.1,953.3 L836.6,949.3" stroke="#1a1a1a" stroke-width="1.3" fill="none" />
<line x1="833.5" y1="777.2" x2="833.5" y2="975" class="cl" stroke-width="1.5" stroke-dasharray="8.48 2.96 1.38 2.96"/>
<circle cx="833.6" cy="804.6" r="5.4" stroke="#1a1a1a" stroke-width="1.3" fill="none"/>
<circle cx="833.6" cy="938.8" r="5.4" stroke="#1a1a1a" stroke-width="1.3" fill="none"/>
<line x1="814" y1="804.5" x2="853.1" y2="804.5" class="cl" stroke-width="1.1" stroke-dasharray="8.28 2.89 1.35 2.89"/>
<line x1="814" y1="938.5" x2="853.1" y2="938.5" class="cl" stroke-width="1.1" stroke-dasharray="8.28 2.89 1.35 2.89"/>
<line x1="849.5" y1="804.6" x2="849.5" y2="938.8" stroke="#262626" stroke-width="1.0" />
<path d="M849.5,804.6 L850.75,809.6 L848.25,809.6 Z" fill="#262626" stroke="#262626" stroke-width="0.5"/>
<path d="M849.5,938.8 L848.25,933.8 L850.75,933.8 Z" fill="#262626" stroke="#262626" stroke-width="0.5"/>
<g transform="translate(848.45,872) rotate(-90) scale(0.75,1)"><text x="-12" y="0" font-size="11.0" font-style="italic" font-weight="normal" fill="#1e1e1e" stroke="#1e1e1e" stroke-width="0.3" textLength="24" lengthAdjust="spacing">79.0</text></g>
<line x1="771.3" y1="784.5" x2="828" y2="802.8" stroke="#262626" stroke-width="1.0" />
<path d="M828,802.8 L822.86,802.45 L823.63,800.07 Z" fill="#262626" stroke="#262626" stroke-width="0.5"/>
<line x1="760.3" y1="915.1" x2="828" y2="937.1" stroke="#262626" stroke-width="1.0" />
<path d="M828,937.1 L822.86,936.74 L823.63,934.37 Z" fill="#262626" stroke="#262626" stroke-width="0.5"/>
<g transform="translate(791.8,791.4) rotate(18) scale(0.78,1)"><text x="-13.14" y="0" font-size="11.4" font-style="italic" font-weight="normal" fill="#1e1e1e" stroke="#1e1e1e" stroke-width="0.3" textLength="26.28" lengthAdjust="spacing">ø6.5</text></g>
<g transform="translate(779.8,922.7) rotate(18) scale(0.78,1)"><text x="-13.14" y="0" font-size="11.4" font-style="italic" font-weight="normal" fill="#1e1e1e" stroke="#1e1e1e" stroke-width="0.3" textLength="26.28" lengthAdjust="spacing">ø6.5</text></g>
<g transform="translate(109.4,112.5) rotate(0) scale(0.68,1)"><text x="0" y="0" font-size="13.8" font-style="italic" font-weight="normal" fill="#1e1e1e" stroke="#1e1e1e" stroke-width="0.3" textLength="300.88" lengthAdjust="spacing">FRONT END—OUTLINE MARKER LAMP</text></g>
<line x1="107.9" y1="114.5" x2="314.5" y2="114.5" stroke="#262626" stroke-width="1.1" />
<line x1="108.5" y1="114" x2="190.4" y2="193.1" stroke="#262626" stroke-width="1.15" />
<g transform="translate(367.6,105.9) rotate(0) scale(0.68,1)"><text x="0" y="0" font-size="13.8" font-style="italic" font-weight="normal" fill="#1e1e1e" stroke="#1e1e1e" stroke-width="0.3" textLength="241.91" lengthAdjust="spacing">CENTRES &#160;OF &#160;THE &#160;REFERENCE</text></g>
<line x1="366.1" y1="107.5" x2="532.6" y2="107.5" stroke="#262626" stroke-width="1.1" />
<line x1="366.6" y1="107.5" x2="190.4" y2="193.1" stroke="#262626" stroke-width="1.15" />
<line x1="366.6" y1="107.5" x2="503.6" y2="192.6" stroke="#262626" stroke-width="1.15" />
<line x1="366.6" y1="107.5" x2="820.6" y2="193.4" stroke="#262626" stroke-width="1.15" />
<g transform="translate(554,105.2) rotate(0) scale(0.68,1)"><text x="0" y="0" font-size="13.8" font-style="italic" font-weight="normal" fill="#1e1e1e" stroke="#1e1e1e" stroke-width="0.3" textLength="211.32" lengthAdjust="spacing">AXES &#160;OF &#160;THE &#160;REFERENCE</text></g>
<line x1="552.5" y1="106.5" x2="698.2" y2="106.5" stroke="#262626" stroke-width="1.1" />
<line x1="552.7" y1="106.6" x2="455.6" y2="193.4" stroke="#262626" stroke-width="1.15" />
<line x1="552.5" y1="106.6" x2="552.5" y2="193.7" stroke="#262626" stroke-width="1.15" />
<line x1="552.7" y1="106.6" x2="887.9" y2="193.5" stroke="#262626" stroke-width="1.15" />
<g transform="translate(704.6,89.3) rotate(0) scale(0.68,1)"><text x="0" y="0" font-size="13.8" font-style="italic" font-weight="normal" fill="#1e1e1e" stroke="#1e1e1e" stroke-width="0.3" textLength="290.59" lengthAdjust="spacing">REAR END—OUTLINE MARKER LAMP</text></g>
<line x1="703.1" y1="90.5" x2="902.7" y2="90.5" stroke="#262626" stroke-width="1.1" />
<line x1="702.9" y1="90.8" x2="809.2" y2="185.4" stroke="#262626" stroke-width="1.15" />
<g transform="translate(452,489.4) rotate(0) scale(0.68,1)"><text x="0" y="0" font-size="13.8" font-style="italic" font-weight="normal" fill="#1e1e1e" stroke="#1e1e1e" stroke-width="0.3" textLength="159.56" lengthAdjust="spacing">SIDE &#160;MARKER &#160;LAMP</text></g>
<line x1="450.5" y1="491.5" x2="561" y2="491.5" stroke="#262626" stroke-width="1.1" />
<path d="M490.6,200.8 L449.8,459 L449.8,491.4" stroke="#262626" stroke-width="1.0" fill="none" />
<g transform="translate(684.6,489.3) rotate(0) scale(0.68,1)"><text x="0" y="0" font-size="13.8" font-style="italic" font-weight="normal" fill="#1e1e1e" stroke="#1e1e1e" stroke-width="0.3" textLength="295.44" lengthAdjust="spacing">OPENINGS &#160;IN &#160;THE &#160;CARRIAGE &#160;TO &#160;FIX</text></g>
<line x1="683.1" y1="491.5" x2="886" y2="491.5" stroke="#262626" stroke-width="1.1" />
<path d="M829.9,292.7 L683.4,462.4 L828.7,424.6 M683.4,462.4 L683.4,491.7" stroke="#262626" stroke-width="1.0" fill="none" />
<g transform="translate(109.4,626.6) rotate(0) scale(0.68,1)"><text x="0" y="0" font-size="13.8" font-style="italic" font-weight="normal" fill="#1e1e1e" stroke="#1e1e1e" stroke-width="0.3" textLength="300.15" lengthAdjust="spacing">FRONT END—OUTLINE MARKER LAMP</text></g>
<line x1="107.9" y1="629.5" x2="314" y2="629.5" stroke="#262626" stroke-width="1.1" />
<line x1="108.5" y1="629" x2="190.6" y2="708.4" stroke="#262626" stroke-width="1.15" />
<g transform="translate(367.6,620.4) rotate(0) scale(0.68,1)"><text x="0" y="0" font-size="13.8" font-style="italic" font-weight="normal" fill="#1e1e1e" stroke="#1e1e1e" stroke-width="0.3" textLength="241.62" lengthAdjust="spacing">CENTRES &#160;OF &#160;THE &#160;REFERENCE</text></g>
<line x1="366.1" y1="622.5" x2="532.4" y2="622.5" stroke="#262626" stroke-width="1.1" />
<line x1="366.6" y1="622" x2="190.6" y2="708.4" stroke="#262626" stroke-width="1.15" />
<line x1="366.6" y1="622" x2="503.6" y2="708" stroke="#262626" stroke-width="1.15" />
<line x1="366.6" y1="622" x2="820.6" y2="708.6" stroke="#262626" stroke-width="1.15" />
<g transform="translate(554.8,619.8) rotate(0) scale(0.68,1)"><text x="0" y="0" font-size="13.8" font-style="italic" font-weight="normal" fill="#1e1e1e" stroke="#1e1e1e" stroke-width="0.3" textLength="210.59" lengthAdjust="spacing">AXES &#160;OF &#160;THE &#160;REFERENCE</text></g>
<line x1="553.3" y1="621.5" x2="698.5" y2="621.5" stroke="#262626" stroke-width="1.1" />
<line x1="553.8" y1="621.9" x2="455.6" y2="708.7" stroke="#262626" stroke-width="1.15" />
<line x1="553.5" y1="621.9" x2="553.5" y2="709" stroke="#262626" stroke-width="1.15" />
<line x1="553.8" y1="621.9" x2="889.8" y2="708.6" stroke="#262626" stroke-width="1.15" />
<g transform="translate(705.2,603.7) rotate(0) scale(0.68,1)"><text x="0" y="0" font-size="13.8" font-style="italic" font-weight="normal" fill="#1e1e1e" stroke="#1e1e1e" stroke-width="0.3" textLength="288.38" lengthAdjust="spacing">REAR END—OUTLINE MARKER LAMP</text></g>
<line x1="703.7" y1="605.5" x2="901.8" y2="605.5" stroke="#262626" stroke-width="1.1" />
<line x1="703.5" y1="605.4" x2="811.2" y2="700" stroke="#262626" stroke-width="1.15" />
<g transform="translate(421,961.9) rotate(0) scale(0.68,1)"><text x="0" y="0" font-size="13.8" font-style="italic" font-weight="normal" fill="#1e1e1e" stroke="#1e1e1e" stroke-width="0.3" textLength="161.03" lengthAdjust="spacing">SIDE &#160;MARKER &#160;LAMP</text></g>
<line x1="419.5" y1="964.5" x2="531" y2="964.5" stroke="#262626" stroke-width="1.1" />
<path d="M489.3,715.2 L419.8,931.9 L419.8,964.1" stroke="#262626" stroke-width="1.0" fill="none" />
<g transform="translate(684.4,1003.8) rotate(0) scale(0.68,1)"><text x="0" y="0" font-size="13.8" font-style="italic" font-weight="normal" fill="#1e1e1e" stroke="#1e1e1e" stroke-width="0.3" textLength="295.44" lengthAdjust="spacing">OPENINGS &#160;IN &#160;THE &#160;CARRIAGE &#160;TO &#160;FIX</text></g>
<line x1="682.9" y1="1006.5" x2="885.8" y2="1006.5" stroke="#262626" stroke-width="1.1" />
<path d="M830,807.5 L683.2,977.9 L828.7,939.6 M683.2,977.9 L683.2,1006.3" stroke="#262626" stroke-width="1.0" fill="none" />
<line x1="236" y1="155.5" x2="466" y2="155.5" stroke="#262626" stroke-width="1.15" />
<line x1="463.5" y1="155.2" x2="463.5" y2="435.5" stroke="#262626" stroke-width="1.15" />
<path d="M463.5,155.2 L464.75,160.2 L462.25,160.2 Z" fill="#262626" stroke="#262626" stroke-width="0.5"/>
<path d="M463.5,435.5 L462.25,430.5 L464.75,430.5 Z" fill="#262626" stroke="#262626" stroke-width="0.5"/>
<line x1="451.3" y1="435.5" x2="466" y2="435.5" stroke="#262626" stroke-width="1.15" />
<g transform="translate(462.95,295) rotate(-90) scale(0.75,1)"><text x="-14.67" y="0" font-size="11.0" font-style="italic" font-weight="normal" fill="#1e1e1e" stroke="#1e1e1e" stroke-width="0.3" textLength="29.33" lengthAdjust="spacing">165.0</text></g>
<line x1="190.5" y1="167" x2="190.5" y2="445.5" stroke="#262626" stroke-width="1.15" />
<line x1="190.4" y1="444.5" x2="451.3" y2="444.5" stroke="#262626" stroke-width="1.15" />
<path d="M190.4,444.5 L195.4,443.25 L195.4,445.75 Z" fill="#262626" stroke="#262626" stroke-width="0.5"/>
<path d="M451.3,444.5 L446.3,445.75 L446.3,443.25 Z" fill="#262626" stroke="#262626" stroke-width="0.5"/>
<g transform="translate(320.8,444.2) rotate(0) scale(0.75,1)"><text x="-14.67" y="0" font-size="11.0" font-style="italic" font-weight="normal" fill="#1e1e1e" stroke="#1e1e1e" stroke-width="0.3" textLength="29.33" lengthAdjust="spacing">154.0</text></g>
<line x1="134.5" y1="221" x2="134.5" y2="460" stroke="#262626" stroke-width="1.15" />
<line x1="134.6" y1="459.5" x2="451.3" y2="459.5" stroke="#262626" stroke-width="1.15" />
<path d="M134.6,459.5 L139.6,458.25 L139.6,460.75 Z" fill="#262626" stroke="#262626" stroke-width="0.5"/>
<path d="M451.3,459.5 L446.3,460.75 L446.3,458.25 Z" fill="#262626" stroke="#262626" stroke-width="0.5"/>
<g transform="translate(292.5,458.8) rotate(0) scale(0.75,1)"><text x="-14.67" y="0" font-size="11.0" font-style="italic" font-weight="normal" fill="#1e1e1e" stroke="#1e1e1e" stroke-width="0.3" textLength="29.33" lengthAdjust="spacing">187.0</text></g>
<line x1="451.5" y1="435.5" x2="451.5" y2="460" stroke="#262626" stroke-width="1.15" />
<line x1="547.5" y1="193.7" x2="547.5" y2="435.1" stroke="#262626" stroke-width="1.15" />
<path d="M547.5,193.7 L548.75,198.7 L546.25,198.7 Z" fill="#262626" stroke="#262626" stroke-width="0.5"/>
<path d="M547.5,435.1 L546.25,430.1 L548.75,430.1 Z" fill="#262626" stroke="#262626" stroke-width="0.5"/>
<line x1="523" y1="435.5" x2="550" y2="435.5" stroke="#262626" stroke-width="1.15" />
<g transform="translate(546.25,314.6) rotate(-90) scale(0.75,1)"><text x="-14.67" y="0" font-size="11.0" font-style="italic" font-weight="normal" fill="#1e1e1e" stroke="#1e1e1e" stroke-width="0.3" textLength="29.33" lengthAdjust="spacing">142.5</text></g>
<line x1="557.5" y1="283" x2="557.5" y2="416.7" stroke="#262626" stroke-width="1.15" />
<path d="M557.5,283 L558.75,288 L556.25,288 Z" fill="#262626" stroke="#262626" stroke-width="0.5"/>
<path d="M557.5,416.7 L556.25,411.7 L558.75,411.7 Z" fill="#262626" stroke="#262626" stroke-width="0.5"/>
<g transform="translate(556.65,349.2) rotate(-90) scale(0.75,1)"><text x="-12" y="0" font-size="11.0" font-style="italic" font-weight="normal" fill="#1e1e1e" stroke="#1e1e1e" stroke-width="0.3" textLength="24" lengthAdjust="spacing">79.0</text></g>
<line x1="474.5" y1="418" x2="474.5" y2="458" stroke="#262626" stroke-width="1.15" />
<line x1="536.5" y1="418" x2="536.5" y2="458" stroke="#262626" stroke-width="1.15" />
<line x1="474.1" y1="455.5" x2="536.9" y2="455.5" stroke="#262626" stroke-width="1.15" />
<path d="M474.1,455.5 L479.1,454.25 L479.1,456.75 Z" fill="#262626" stroke="#262626" stroke-width="0.5"/>
<path d="M536.9,455.5 L531.9,456.75 L531.9,454.25 Z" fill="#262626" stroke="#262626" stroke-width="0.5"/>
<g transform="translate(506,453.2) rotate(0) scale(0.75,1)"><text x="-12" y="0" font-size="11.0" font-style="italic" font-weight="normal" fill="#1e1e1e" stroke="#1e1e1e" stroke-width="0.3" textLength="24" lengthAdjust="spacing">37.0</text></g>
<line x1="236" y1="670.5" x2="398" y2="670.5" stroke="#262626" stroke-width="1.15" />
<line x1="395.5" y1="670.5" x2="395.5" y2="880.3" stroke="#262626" stroke-width="1.15" />
<path d="M395.5,670.5 L396.75,675.5 L394.25,675.5 Z" fill="#262626" stroke="#262626" stroke-width="0.5"/>
<path d="M395.5,880.3 L394.25,875.3 L396.75,875.3 Z" fill="#262626" stroke="#262626" stroke-width="0.5"/>
<line x1="363.3" y1="880.5" x2="398" y2="880.5" stroke="#262626" stroke-width="1.15" />
<g transform="translate(394.85,775) rotate(-90) scale(0.75,1)"><text x="-8" y="0" font-size="11.0" font-style="italic" font-weight="normal" fill="#1e1e1e" stroke="#1e1e1e" stroke-width="0.3" textLength="16" lengthAdjust="spacing">114</text></g>
<line x1="377.5" y1="727.9" x2="377.5" y2="861.8" stroke="#262626" stroke-width="1.15" />
<path d="M377.5,727.9 L378.75,732.9 L376.25,732.9 Z" fill="#262626" stroke="#262626" stroke-width="0.5"/>
<path d="M377.5,861.8 L376.25,856.8 L378.75,856.8 Z" fill="#262626" stroke="#262626" stroke-width="0.5"/>
<g transform="translate(377.15,794.5) rotate(-90) scale(0.75,1)"><text x="-12" y="0" font-size="11.0" font-style="italic" font-weight="normal" fill="#1e1e1e" stroke="#1e1e1e" stroke-width="0.3" textLength="24" lengthAdjust="spacing">79.0</text></g>
<line x1="190.5" y1="682.5" x2="190.5" y2="887.5" stroke="#262626" stroke-width="1.15" />
<line x1="190.6" y1="887.5" x2="363.3" y2="887.5" stroke="#262626" stroke-width="1.15" />
<path d="M190.6,887.5 L195.6,886.25 L195.6,888.75 Z" fill="#262626" stroke="#262626" stroke-width="0.5"/>
<path d="M363.3,887.5 L358.3,888.75 L358.3,886.25 Z" fill="#262626" stroke="#262626" stroke-width="0.5"/>
<g transform="translate(276.6,886) rotate(0) scale(0.75,1)"><text x="-14.67" y="0" font-size="11.0" font-style="italic" font-weight="normal" fill="#1e1e1e" stroke="#1e1e1e" stroke-width="0.3" textLength="29.33" lengthAdjust="spacing">102.0</text></g>
<line x1="134.5" y1="736.3" x2="134.5" y2="903" stroke="#262626" stroke-width="1.15" />
<line x1="134.6" y1="902.5" x2="363.3" y2="902.5" stroke="#262626" stroke-width="1.15" />
<path d="M134.6,902.5 L139.6,901.25 L139.6,903.75 Z" fill="#262626" stroke="#262626" stroke-width="0.5"/>
<path d="M363.3,902.5 L358.3,903.75 L358.3,901.25 Z" fill="#262626" stroke="#262626" stroke-width="0.5"/>
<g transform="translate(248.4,900.8) rotate(0) scale(0.75,1)"><text x="-14.67" y="0" font-size="11.0" font-style="italic" font-weight="normal" fill="#1e1e1e" stroke="#1e1e1e" stroke-width="0.3" textLength="29.33" lengthAdjust="spacing">135.0</text></g>
<line x1="363.5" y1="880.3" x2="363.5" y2="903" stroke="#262626" stroke-width="1.15" />
<line x1="563.5" y1="709" x2="563.5" y2="879.9" stroke="#262626" stroke-width="1.15" />
<path d="M563.5,709 L564.75,714 L562.25,714 Z" fill="#262626" stroke="#262626" stroke-width="0.5"/>
<path d="M563.5,879.9 L562.25,874.9 L564.75,874.9 Z" fill="#262626" stroke="#262626" stroke-width="0.5"/>
<line x1="520" y1="879.5" x2="566" y2="879.5" stroke="#262626" stroke-width="1.15" />
<g transform="translate(562.85,794.4) rotate(-90) scale(0.75,1)"><text x="-14" y="0" font-size="11.0" font-style="italic" font-weight="normal" fill="#1e1e1e" stroke="#1e1e1e" stroke-width="0.3" textLength="28" lengthAdjust="spacing">101.0</text></g>
<line x1="474.5" y1="866" x2="474.5" y2="896" stroke="#262626" stroke-width="1.15" />
<line x1="537.5" y1="866" x2="537.5" y2="896" stroke="#262626" stroke-width="1.15" />
<line x1="474.1" y1="893.5" x2="536.8" y2="893.5" stroke="#262626" stroke-width="1.15" />
<path d="M474.1,893.5 L479.1,892.25 L479.1,894.75 Z" fill="#262626" stroke="#262626" stroke-width="0.5"/>
<path d="M536.8,893.5 L531.8,894.75 L531.8,892.25 Z" fill="#262626" stroke="#262626" stroke-width="0.5"/>
<g transform="translate(505.3,892.1) rotate(0) scale(0.75,1)"><text x="-12" y="0" font-size="11.0" font-style="italic" font-weight="normal" fill="#1e1e1e" stroke="#1e1e1e" stroke-width="0.3" textLength="24" lengthAdjust="spacing">37.0</text></g>
</g>
</svg></body></html>
